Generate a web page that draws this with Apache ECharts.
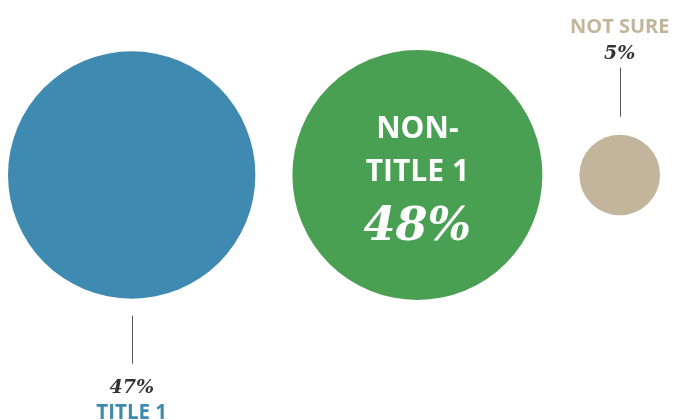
<!DOCTYPE html>
<html><head><meta charset="utf-8">
<script src="https://cdn.jsdelivr.net/npm/echarts@6/dist/echarts.min.js"></script>
<style>html,body{margin:0;padding:0;background:#fff}#c{width:673px;height:420px}</style>
</head><body><div id="c"></div>
<script>
const categories = ['TITLE 1', 'NON-TITLE 1', 'NOT SURE'];
const values = [47, 48, 5];
const colors = ['#3f8ab1', '#4aa052', '#c2b59b'];

const W = 673, H = 420, CY = 175, LEFT = 8, GAP = 37;
const K = 250 / Math.sqrt(48);
const radii = values.map(v => Math.sqrt(v) * K / 2);
const xs = [];
let cur = LEFT;
radii.forEach((r, i) => { xs.push(cur + r); cur += 2 * r + GAP; });

const SANS = 'Open Sans';
const SERIF = 'DejaVu Serif';

const labels = [
  { position: 'bottom', distance: 77,
    formatter: '{p|' + values[0] + '%}\n{n|' + categories[0] + '}',
    rich: { p: { fontFamily: SERIF, fontStyle: 'italic', fontWeight: 'bold', fontSize: 19, color: '#333', lineHeight: 25 },
            n: { fontFamily: SANS, fontWeight: 'bold', fontSize: 20.5, color: colors[0], lineHeight: 25 } } },
  { position: 'inside', offset: [0, 10],
    formatter: '{n|NON-}\n{n|TITLE 1}\n{p|' + values[1] + '%}',
    rich: { n: { fontFamily: SANS, fontWeight: 'bold', fontSize: 30, color: '#fff', lineHeight: 43 },
            p: { fontFamily: SERIF, fontStyle: 'italic', fontWeight: 'bold', fontSize: 46, color: '#fff', lineHeight: 69 } } },
  { position: 'top', distance: 69,
    formatter: '{n|' + categories[2] + '}\n{p|' + values[2] + '%}',
    rich: { n: { fontFamily: SANS, fontWeight: 'bold', fontSize: 20, color: colors[2], lineHeight: 28 },
            p: { fontFamily: SERIF, fontStyle: 'italic', fontWeight: 'bold', fontSize: 19, color: '#333', lineHeight: 24 } } }
];

const data = values.map((v, i) => ({
  name: categories[i], value: [xs[i], CY, v],
  symbolSize: 2 * radii[i],
  itemStyle: { color: colors[i], opacity: 1 },
  label: Object.assign({ show: true }, labels[i])
}));

const chart = echarts.init(document.getElementById('c'));
chart.setOption({
  animation: false,
  grid: { left: 0, right: 0, top: 0, bottom: 0 },
  xAxis: { type: 'value', min: 0, max: W, show: false },
  yAxis: { type: 'value', min: 0, max: H, inverse: true, show: false },
  series: [{ type: 'scatter', data: data, emphasis: { disabled: true } }]
});

// leader lines
const lines = [];
[0, 2].forEach(i => {
  const p = chart.convertToPixel({ seriesIndex: 0 }, [xs[i], CY]);
  const r = radii[i];
  let y1, y2;
  if (i === 0) { y1 = p[1] + r + 17; y2 = p[1] + r + 65; }
  else { y1 = p[1] - r - 18; y2 = p[1] - r - 67; }
  lines.push({ type: 'line', shape: { x1: Math.round(p[0]) + 0.5, y1: y1, x2: Math.round(p[0]) + 0.5, y2: y2 },
               style: { stroke: '#555', lineWidth: 1 } });
});
chart.setOption({ graphic: lines });
</script></body></html>
